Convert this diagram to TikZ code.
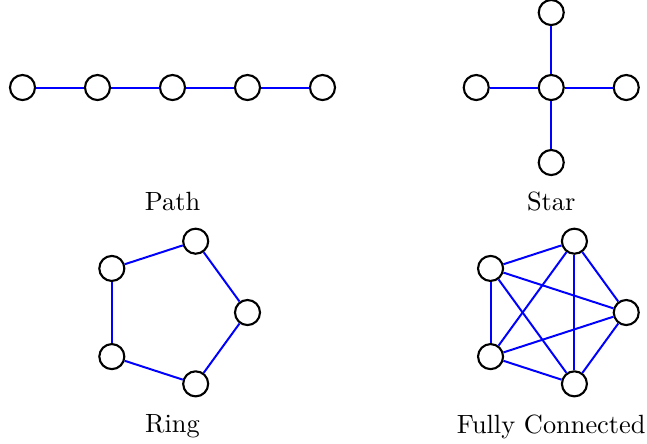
\documentclass[tikz,border=0pt]{standalone}
\usepackage{tikz}
\usetikzlibrary{positioning}

\begin{document}
\begin{tikzpicture}[vertex/.style={circle,draw,thick,fill=white,minimum size=9.5pt,inner sep=0pt},
                    edge/.style={blue,line width=0.75pt},
                    caption/.style={inner sep=0pt}]
        \useasboundingbox (-0.30,1.167) rectangle (8.327,-4.753);
        % path
        \foreach \i in {1,...,5}
            \node[vertex] (p\i) at (\i-1,0) {};
        \foreach \i [evaluate=\i as \j using int(\i+1)] in {1,...,4}
            \draw[edge] (p\i) -- (p\j);
        \node[caption] (pathlabel) at (2,-1.52) {Path};
        % star
        \node[vertex] (s0) at (7.05,0) {};
        \node[vertex] (s1) at (6.05,0) {};
        \node[vertex] (s2) at (8.05,0) {};
        \node[vertex] (s3) at (7.05,1) {};
        \node[vertex] (s4) at (7.05,-1) {};
        \foreach \i in {1,...,4}
            \draw[edge] (s0) -- (s\i);
        \node[caption] (starlabel) at (7.05,-1.52) {Star};
        % ring
        \foreach \i in {1,...,5}
            \node[vertex] (r\i) at ({2+cos(72*(\i-1))},{-3+sin(72*(\i-1))}) {};
        \foreach \i/\j in {1/2,2/3,3/4,4/5,5/1}
            \draw[edge] (r\i) -- (r\j);
        \node[caption] (ringlabel) at (2,-4.52) {Ring};
        % fully connected
        \foreach \i in {1,...,5}
            \node[vertex] (f\i) at ({7.05+cos(72*(\i-1))},{-3+sin(72*(\i-1))}) {};
        \foreach \i [evaluate=\i as \k using int(\i+1)] in {1,...,4}
            \foreach \j in {\k,...,5}
                \draw[edge] (f\i) -- (f\j);
        \node[caption] (fulllabel) at (7.05,-4.52) {Fully Connected};
    \end{tikzpicture}
\end{document}
